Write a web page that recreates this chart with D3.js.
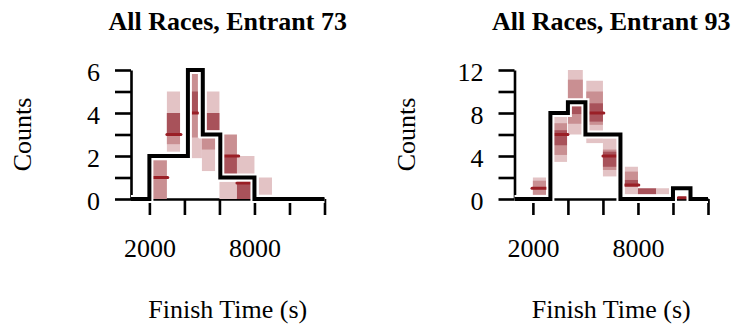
<!DOCTYPE html>
<html>
<head>
<meta charset="utf-8">
<script src="https://cdn.jsdelivr.net/npm/d3@7"></script>
<style>
  html, body { margin: 0; padding: 0; background: #fff; }
  svg { display: block; }
  text { font-family: "Liberation Serif", "Times New Roman", serif; fill: #000; }
</style>
</head>
<body>
<svg id="chart" width="735" height="324"></svg>
<script>
// ---- data ---------------------------------------------------------------
const panelTitles = ["All Races, Entrant 73", "All Races, Entrant 93"];

// observed histogram: bin edges (s) and counts per bin
const edges73  = [950, 2000, 4200, 5050, 6050, 8000, 12000];
const counts73 = [0, 2, 6, 3, 1, 0];
const edges93  = [950, 3000, 4000, 5000, 7000, 10000, 11000, 12000];
const counts93 = [0, 8, 9, 6, 0, 1, 0];

// predictive bands: [start s, end s, low count, high count, level 1=outer 2=mid 3=inner]
const bands73 = [
  [2200, 3000, 0.0, 1.8, 2],
  [3000, 3750, 2.2, 5.0, 1], [3000, 3750, 2.55, 4.0, 2], [3000, 3750, 3.0, 4.0, 3],
  [4200, 5000, 1.9, 2.85, 1],
  [4200, 4770, 2.85, 5.85, 2], [4200, 4770, 4.0, 5.0, 3],
  [5000, 5750, 1.3, 2.85, 1], [5000, 5750, 2.3, 2.85, 2],
  [5250, 6000, 3.2, 5.0, 1], [5250, 6000, 3.2, 4.0, 3],
  [6000, 7000, 0.0, 0.8, 1],
  [6250, 7000, 1.1, 3.0, 2], [6250, 7000, 1.1, 2.0, 3],
  [7000, 8000, 0.8, 2.0, 1],
  [7000, 7800, 0.0, 0.75, 3],
  [8250, 9000, 0.2, 1.0, 1]
];
const bands93 = [
  [2000, 2750, 0.35, 2.0, 1], [2000, 2750, 0.4, 1.7, 2],
  [3200, 3950, 3.45, 7.65, 1], [3200, 3950, 4.1, 7.05, 2], [3200, 3950, 5.0, 6.4, 3],
  [4000, 4850, 6.0, 12.0, 1], [4000, 4850, 7.0, 11.1, 2], [4050, 4800, 7.9, 8.6, 3],
  [5050, 6000, 5.2, 11.0, 1], [5050, 6000, 6.9, 10.0, 2], [5050, 6000, 7.2, 8.9, 3],
  [6000, 6800, 2.1, 5.65, 1], [6000, 6800, 2.7, 4.6, 2], [6000, 6800, 3.0, 4.4, 3],
  [7250, 8000, 0.45, 3.0, 1], [7250, 8000, 1.15, 2.55, 2], [7250, 8000, 1.15, 1.77, 3],
  [8000, 9050, 0.45, 1.0, 3],
  [9050, 9800, 0.45, 1.0, 1]
];

// median marks: [start s, end s, count]
const medians73 = [
  [2200, 3050, 1.0], [3000, 3800, 3.0], [4200, 4770, 4.0],
  [6250, 7100, 2.0], [7000, 7800, 0.75]
];
const medians93 = [
  [1950, 2800, 1.0], [3200, 4000, 6.0], [5050, 6050, 8.0],
  [6000, 6850, 4.0], [7250, 8050, 1.3], [10300, 10750, 0.12]
];

// axes
const xTicks = [2000, 4000, 6000, 8000, 10000, 12000];
const xTickLabels = ["2000", "", "", "8000", "", ""];
const yTicks73 = [0, 1, 2, 3, 4, 5, 6];
const yTickLabels73 = ["0", "", "2", "", "4", "", "6"];
const yTicks93 = [0, 2, 4, 6, 8, 10, 12];
const yTickLabels93 = ["0", "", "4", "", "8", "", "12"];

const panels = [
  { title: panelTitles[0], edges: edges73, counts: counts73, bands: bands73, medians: medians73,
    yMax: 6, yTicks: yTicks73, yLabels: yTickLabels73, left: 131 },
  { title: panelTitles[1], edges: edges93, counts: counts93, bands: bands93, medians: medians93,
    yMax: 12, yTicks: yTicks93, yLabels: yTickLabels93, left: 514.5 }
];

// ---- drawing ------------------------------------------------------------
const shades = { 1: "#e3c3c5", 2: "#c98f92", 3: "#a8525a" };
const medianColor = "#9a1f26";
const plotW = 193.5, plotTop = 70, plotBottom = 199;
const svg = d3.select("#chart");

panels.forEach(p => {
  const x = d3.scaleLinear().domain([950, 12000]).range([p.left, p.left + plotW]);
  const y = d3.scaleLinear().domain([0, p.yMax]).range([plotBottom, plotTop]);
  const g = svg.append("g");
  const cx = p.left + plotW / 2;

  // title
  g.append("text").attr("x", cx).attr("y", 30)
    .attr("text-anchor", "middle").style("font-size", "26px").style("font-weight", "bold")
    .text(p.title);

  // axes
  const yAxis = d3.axisLeft(y).tickValues(p.yTicks).tickSize(16).tickSizeOuter(0).tickPadding(15)
    .tickFormat((d, i) => p.yLabels[i]);
  const ya = g.append("g").attr("transform", `translate(${p.left},0)`).call(yAxis);
  const xAxis = d3.axisBottom(x).tickValues(xTicks).tickSize(16).tickSizeOuter(0).tickPadding(24)
    .tickFormat((d, i) => xTickLabels[i]);
  const xa = g.append("g").attr("transform", `translate(0,${plotBottom})`).call(xAxis);
  [ya, xa].forEach(a => {
    a.select(".domain").attr("stroke", "#000").attr("stroke-width", 2.6);
    a.selectAll(".tick line").attr("stroke", "#000").attr("stroke-width", 2.6);
    a.selectAll(".tick text").style("font-size", "26px").attr("font-family", null).attr("fill", "#000");
  });
  ya.selectAll(".tick text").attr("dy", "0.40em");

  // axis titles
  g.append("text").attr("transform", `translate(${p.left - 100},${(plotTop + plotBottom) / 2}) rotate(-90)`)
    .attr("text-anchor", "middle").style("font-size", "26px").text("Counts");
  g.append("text").attr("x", cx).attr("y", 318)
    .attr("text-anchor", "middle").style("font-size", "26px").text("Finish Time (s)");

  // predictive bands
  g.append("g").selectAll("rect").data(p.bands).join("rect")
    .attr("x", d => x(d[0])).attr("width", d => x(d[1]) - x(d[0]))
    .attr("y", d => y(d[3])).attr("height", d => y(d[2]) - y(d[3]))
    .attr("fill", d => shades[d[4]]);

  // medians
  g.append("g").selectAll("line").data(p.medians).join("line")
    .attr("x1", d => x(d[0])).attr("x2", d => x(d[1]))
    .attr("y1", d => y(d[2])).attr("y2", d => y(d[2]))
    .attr("stroke", medianColor).attr("stroke-width", 3).attr("stroke-linecap", "round");

  // observed step histogram, with a white halo under the black outline
  const pts = p.counts.map((c, i) => [p.edges[i], c]);
  pts.push([p.edges[p.edges.length - 1], p.counts[p.counts.length - 1]]);
  const step = d3.line().x(d => x(d[0])).y(d => y(d[1])).curve(d3.curveStepAfter);
  g.append("path").attr("d", step(pts)).attr("fill", "none")
    .attr("stroke", "#fff").attr("stroke-width", 8).attr("stroke-linejoin", "miter");
  g.append("path").attr("d", step(pts)).attr("fill", "none")
    .attr("stroke", "#000").attr("stroke-width", 4).attr("stroke-linejoin", "miter");
});
</script>
</body>
</html>
